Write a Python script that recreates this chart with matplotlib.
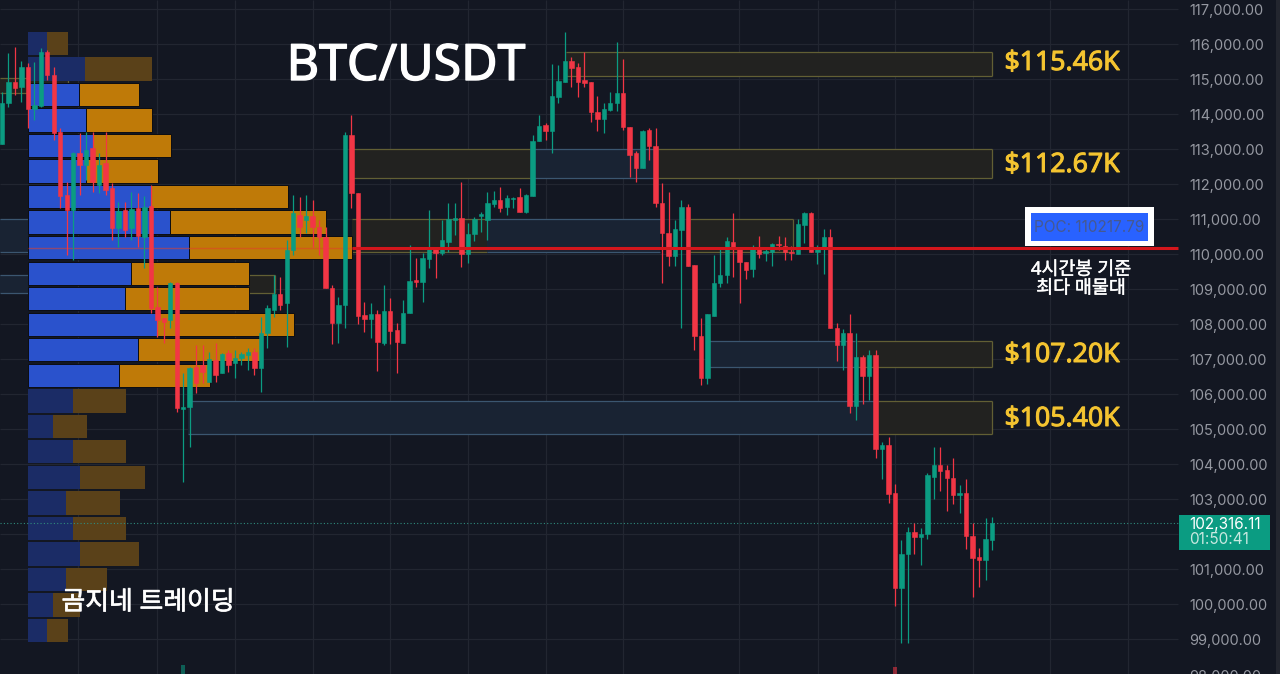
import matplotlib
matplotlib.use('Agg')
import matplotlib.pyplot as plt
import matplotlib.patheffects as pe
from matplotlib.patches import Rectangle
from matplotlib.transforms import ScaledTranslation

plt.rcParams['font.family'] = ['Noto Sans', 'Noto Sans CJK KR', 'DejaVu Sans']

# candles, oldest first
opens = [113140,114310,114910,114770,115340,114140,114230,115770,115110,113490,111690,111260,112890,112540,113030,111970,112600,111890,110740,111260,110740,111310,110490,111370,108490,108170,108110,109170,105570,105630,106770,106830,106340,106970,106600,107170,106890,107030,107110,107200,106740,107740,108400,108860,108600,110110,111110,110970,111090,110770,110490,109030,108030,108540,113400,111740,108260,108140,108290,107460,108370,107830,107460,108310,109260,109200,109860,110170,110030,110340,110970,111030,110000,110570,111090,110970,111430,111540,111340,111570,111630,111200,111660,113230,113690,113510,114490,114910,115510,115340,114970,114910,114060,113860,114110,114310,114600,113630,112890,112460,113540,113090,111460,110600,109940,110690,111340,109690,107660,106460,108230,109170,109400,110340,110200,109770,109570,110200,110030,110060,110290,110230,110060,110000,110830,111170,110060,110140,110490,107890,107400,107740,105660,107060,106510,107110,104430,104540,103170,100460,101430,102060,101910,102000,103630,103970,103830,103600,103110,103170,101940,101340,101260,101830]
highs = [114630,115740,115910,115510,115460,115490,115890,115830,115340,113600,112060,112910,113460,113490,113490,112890,113490,112030,111490,111490,111770,111740,111660,111970,109060,108170,109200,109200,106600,106770,107400,107400,107200,107460,107170,107260,107260,107200,107310,107310,108200,108540,109400,109340,110400,111690,111630,111690,111540,110970,110770,109110,108770,113490,113970,111740,108630,108600,108400,109110,108740,108030,108690,110260,109890,110030,111260,110170,110970,111460,111460,112060,110890,111060,111200,111770,111800,111910,111690,111630,111890,111710,113400,113970,113740,115430,115400,116340,115630,115460,115770,114910,114510,114310,114630,116060,115570,113630,112940,113540,113600,113600,112030,111770,110970,111540,111430,109690,108170,108290,109970,110170,110490,111170,110200,109770,110260,110510,110200,110310,110510,110490,110230,111000,111200,111200,110260,110710,110710,108030,107860,108290,107740,107110,107260,107260,104630,104770,103430,101830,102200,102310,102170,103740,104490,104490,103970,104170,103400,103570,102310,101600,102460,102490]
lows = [113140,114200,114540,114340,113600,113830,114200,114970,113260,111310,109970,109830,111690,112110,111770,111740,111690,110400,110200,110490,110400,110200,109600,108310,107630,107460,107890,105490,103490,104490,106030,106310,106340,106340,106600,106630,106460,106830,106690,106540,106060,107310,108200,108400,107340,109970,110490,110600,110200,109970,109030,107430,107460,107890,111310,108000,107770,107600,106660,107400,107430,106600,107460,108310,109060,108630,109600,109310,109970,110060,110540,109630,109740,110370,110630,110400,111340,111200,111110,111310,111200,111170,111660,113230,113260,112890,114310,114910,114770,114490,114770,113770,113510,113460,114090,114090,113540,112200,112060,112460,112690,111340,109170,109660,109660,107890,109660,107260,106260,106290,108230,109060,109170,109340,108600,109290,109340,109890,109800,109660,110110,109830,109830,110000,110310,110060,109710,109430,107890,106940,106690,105460,105260,105710,105830,104170,103570,102890,99940,98890,98890,101430,101110,101860,103000,103230,102660,102860,102600,101570,100200,100490,100690,101540]
closes = [114310,114910,114740,115340,114140,114260,115770,115110,113460,111660,111260,112890,112540,112970,112060,112540,111830,110740,111230,110690,111290,110510,111340,108460,108110,108060,109170,105600,105630,106740,106310,106630,107000,106540,107140,106830,107030,107140,107200,106740,107740,108460,108860,108540,110110,111170,110770,111090,110770,110490,109030,108030,108540,113400,111740,108230,108140,108290,107490,108370,107800,107490,108310,109230,109200,109890,110170,110030,110400,111000,111030,110000,110570,111000,111140,111460,111540,111310,111600,111600,111200,111690,113230,113660,113510,114510,114940,115510,115310,114910,114890,114060,113860,114140,114310,114600,113630,112830,112460,113510,113090,111460,110600,109940,110710,111340,109660,107660,106460,108290,109170,109400,110370,110140,109770,109540,110200,110000,110090,110290,110260,110060,110030,110860,111170,110060,110140,110490,107890,107400,107740,105660,107060,106510,107110,104430,104540,103140,100460,101430,102060,101910,102000,103690,103970,103800,103600,103110,103170,101940,101310,101260,101860,102316]

# volume profile: bin centre, buy and sell volume, active value area or not
profile_price = [116010,115290,114560,113830,113100,112370,111640,110910,110180,109450,108720,107990,107270,106530,105800,105080,104350,103620,102890,102160,101430,100700,99970,99240]
profile_buy = [19,57,51,58,65,58,123,142,161,103,97,129,110,91,45,25,45,52,38,45,52,38,25,19]
profile_sell = [21,67,60,66,78,72,137,156,163,118,124,137,122,91,53,34,53,65,54,53,59,41,27,21]
profile_active = [0,0,1,1,1,1,1,1,1,1,1,1,1,1,0,0,0,0,0,0,0,0,0,0]

# order block zones: first candle, last candle, price low, price high, kind
zone_x0 = [87.2,54.1,81.6,101.4,54.1,75,106.3,-0.3,-0.3,38,-0.3,132.1,109.1,135.4,28.7]
zone_x1 = [153,81.6,101.4,153,75,101.7,122.3,10.2,4.02,42.2,4.02,153,131.8,153,134.9]
zone_low = [115090,112170,112170,112170,110060,110060,110060,114600,110060,108890,108890,106770,106770,104860,104860]
zone_high = [115770,113000,113000,113000,111000,111000,111000,115030,111000,109400,109400,107510,107510,105800,105800]
zone_kind = ['y','y','b','y','y','b','y','y','b','y','b','y','b','y','b']
zone_closed = [1,0,0,1,0,0,1,1,0,1,0,1,0,1,0]

level_labels = ['$115.46K','$112.67K','$107.20K','$105.40K']
level_label_y = [62, 164, 354, 418]

price_ticks = [117000,116000,115000,114000,113000,112000,111000,110000,109000,108000,107000,106000,105000,104000,103000,101000,100000,99000,98000]
grid_prices = [117000,116000,115000,114000,113000,112000,111000,110000,109000,108000,107000,106000,105000,104000,103000,102000,101000,100000,99000]
grid_times = [11.75,24,36,48.1,60,72,84.1,96,113.9,126.1,138,150.1,162,174]

vol_index = [28,138]
vol_values = [260,200]

poc = 110217.79
last_price = 102316.11

BG = '#131722'
GREEN = '#0b9c82'
RED = '#f23645'
X_MIN, X_MAX = -0.309, 197.5
X_END = 181.8   # where the price scale starts


def px(x, y):
    return x / 1280, 1 - y / 674


def heavy(color, w):
    return [pe.withStroke(linewidth=w, foreground=color)]


fig = plt.figure(figsize=(12.8, 6.74), dpi=100, facecolor=BG)
ax = fig.add_axes([0, 0, 1, 1], facecolor=BG)
ax.set_xlim(X_MIN, X_MAX)
ax.set_ylim(98000, 117257)
for s in ax.spines.values():
    s.set_visible(False)
ax.set_xticks([])
ax.yaxis.tick_right()
ax.set_yticks(price_ticks)
ax.set_yticklabels([f'{p:,.2f}' for p in price_ticks])
ax.tick_params(axis='y', length=0, pad=-65.5, labelsize=10.5, labelcolor='#9598a1')
down = ScaledTranslation(0, -1 / 100, fig.dpi_scale_trans)
for t in ax.get_yticklabels():
    t.set_family(['Inter', 'DejaVu Sans'])
    t.set_transform(t.get_transform() + down)

ax.hlines(grid_prices, X_MIN, X_END, color='#222631', lw=0.9, zorder=0)
ax.vlines(grid_times, 98000, 117257, color='#222631', lw=0.9, zorder=0)

# zones, only top and bottom lines unless the box was closed on the right
for x0, x1, lo, hi, kind, closed in zip(zone_x0, zone_x1, zone_low, zone_high, zone_kind, zone_closed):
    if kind == 'y':
        fc, ec = '#222220', '#625f34'
    else:
        fc, ec = '#192333', '#3b5670'
    ax.add_patch(Rectangle((x0, lo), x1 - x0, hi - lo, fc=fc, ec='none', zorder=1))
    ax.hlines([lo, hi], x0, x1, color=ec, lw=0.9, zorder=1)
    if closed:
        ax.vlines(x1, lo, hi, color=ec, lw=0.9, zorder=1)

# volume profile
scale = 1 / 6.47
start = (28 - 2) / 6.47
for p, b, s, act in zip(profile_price, profile_buy, profile_sell, profile_active):
    c1 = '#2a52cc' if act else '#1b2c66'
    c2 = '#bf7a08' if act else '#5a4119'
    ec = '#0c0d12' if act else 'none'
    ax.barh(p, b * scale, left=start, height=668, color=c1, edgecolor=ec, lw=0.7, zorder=2)
    ax.barh(p, s * scale, left=start + b * scale, height=668, color=c2, edgecolor=ec, lw=0.7, zorder=2)

# poc line, faint over the profile
ax.hlines(poc - 40, start, 54.1, color='#e0402a', lw=1.0, alpha=0.55, zorder=3)

# candles
idx = list(range(len(opens)))
cols = [GREEN if c >= o else RED for o, c in zip(opens, closes)]
ax.vlines(idx, lows, highs, colors=cols, lw=0.9, zorder=4)
bottoms = [min(o, c) for o, c in zip(opens, closes)]
heights = [abs(c - o) for o, c in zip(opens, closes)]
ax.bar(idx, heights, bottom=bottoms, width=0.68, color=cols, edgecolor=cols, lw=0.4, zorder=5)

ax.bar(vol_index, vol_values, bottom=98000, width=0.7,
       color=[GREEN if i == 28 else RED for i in vol_index], alpha=0.55, zorder=2)

ax.hlines(poc - 40, 54.1, X_END, color='#d4161c', lw=2.2, zorder=6)
ax.hlines(last_price, X_MIN, X_END, color='#2f8c7e', lw=0.8, linestyles=(0, (1, 2)), zorder=3)

# level labels
for lab, y in zip(level_labels, level_label_y):
    ax.text(*px(1062, y + 1), lab, transform=ax.transAxes, color='#f4c430', fontsize=19.2,
            ha='center', va='center', zorder=8, path_effects=heavy('#f4c430', 0.7))

ax.text(*px(406, 67), 'BTC/USDT', transform=ax.transAxes, color='white', fontsize=36,
        ha='center', va='center', zorder=8, path_effects=heavy('white', 1.0))
ax.text(*px(148, 603), '곰지네 트레이딩', transform=ax.transAxes, color='white', fontsize=18.6,
        ha='center', va='center', zorder=8, path_effects=heavy('white', 0.5))
ax.text(*px(1081, 279), '4시간봉 기준\n최다 매물대', transform=ax.transAxes, color='white', fontsize=13.3,
        ha='center', va='center', linespacing=1.05, zorder=8, path_effects=heavy('white', 0.3))

# poc label
ax.add_patch(Rectangle(px(1025, 246), 129 / 1280, 39 / 674, transform=ax.transAxes, fc='white', ec='none', zorder=7))
ax.add_patch(Rectangle(px(1031, 241), 117 / 1280, 28 / 674, transform=ax.transAxes, fc='#2962ff', ec='none', zorder=7))
ax.text(*px(1089, 228), f'POC: {poc}', transform=ax.transAxes, color='#46598f', fontsize=11,
        family=['Inter', 'DejaVu Sans'], ha='center', va='center', zorder=8)

# last price tag
ax.add_patch(Rectangle(px(1179, 550), 91 / 1280, 35 / 674, transform=ax.transAxes, fc='#0b9c82', ec='none', zorder=7))
ax.text(*px(1189, 524), f'{last_price:,.2f}', transform=ax.transAxes, color='white', fontsize=11,
        family=['Inter', 'DejaVu Sans'], ha='left', va='center', zorder=8)
ax.text(*px(1189, 540), '01:50:41', transform=ax.transAxes, color='#c8e8e0', fontsize=11,
        family=['Inter', 'DejaVu Sans'], ha='left', va='center', zorder=8)

# edge of the price scale
ax.add_patch(Rectangle(px(1276, 674), 4 / 1280, 1, transform=ax.transAxes, fc='#23262f', ec='none', zorder=7))

fig.savefig('out.png', dpi=100, facecolor=BG)
